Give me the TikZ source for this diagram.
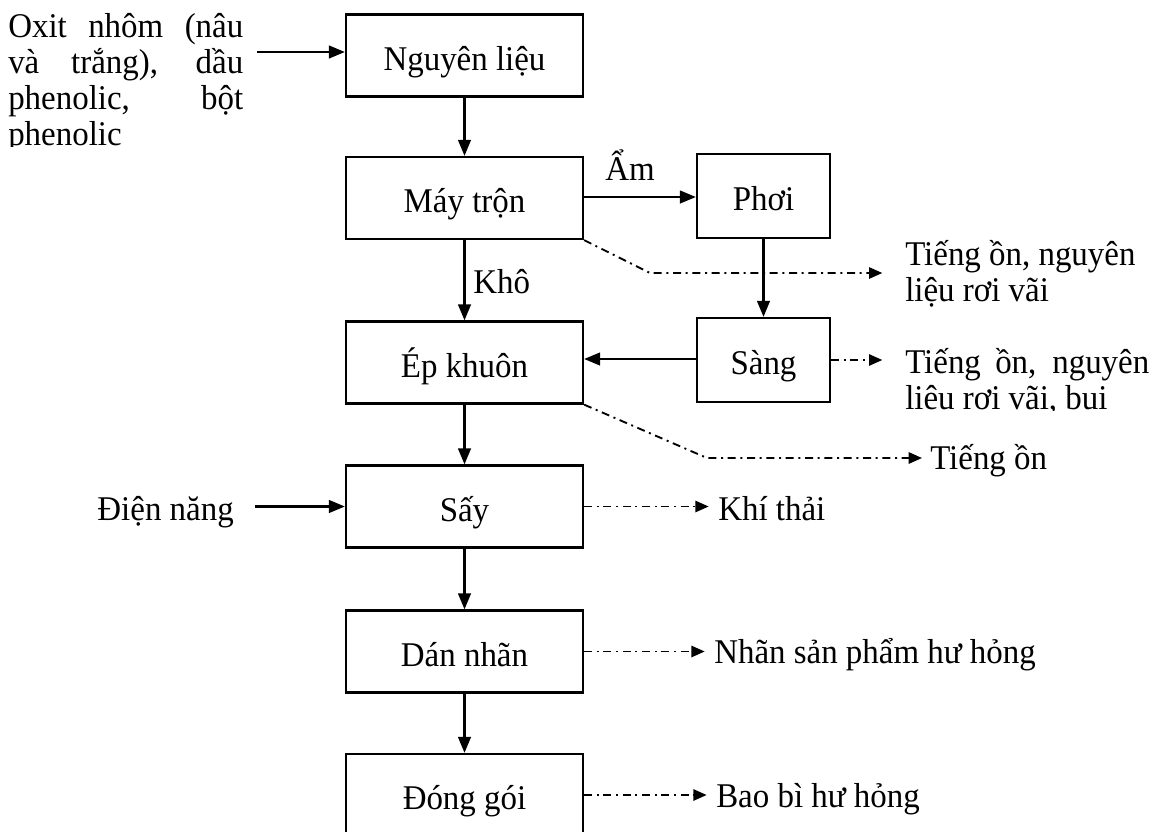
\documentclass[tikz,border=0pt]{standalone}
\usepackage{fontspec}
\setmainfont{Liberation Serif}[FakeStretch=0.95]
\usetikzlibrary{arrows.meta}
\begin{document}
\begin{tikzpicture}[x=0.75pt,y=-0.75pt,
  txt/.style={font=\fontsize{26}{27}\selectfont},
  box/.style={draw, line width=1.7pt, minimum width=177.75pt, minimum height=61.5pt, inner sep=0pt, text height=23pt, text depth=1pt, txt},
  sbox/.style={box, minimum width=99.75pt, minimum height=63pt},
  flow/.style={line width=1.7pt, -{Triangle[length=12pt,width=9.5pt]}},
  waste/.style={line width=1.4pt, dash pattern=on 6pt off 3.5pt on 1.5pt off 3.5pt, -{Triangle[length=10pt,width=8.5pt]}},
  lbl/.style={inner sep=0pt, txt, anchor=base west}]
\useasboundingbox (0,0) rectangle (1154,832);
\clip (0,0) rectangle (1154,832);

% process boxes
\node[box] (nl) at (464.5,55.5) {Nguyên liệu};
\node[box] (mt) at (464.5,198) {Máy trộn};
\node[sbox] (ph) at (763.5,196) {Phơi};
\node[sbox] (sg) at (763.5,360) {Sàng};
\node[box] (ek) at (464.5,362.5) {Ép khuôn};
\node[box] (sy) at (464.5,506.5) {Sấy};
\node[box] (dn) at (464.5,651.5) {Dán nhãn};
\node[box] (dg) at (464.5,795) {Đóng gói};

% input texts
\begin{scope}
  \clip (0,0) rectangle (320,146.5);
  \node[lbl] (src) at (8,37) {\parbox[t]{176.25pt}{%
    \makebox[176.25pt][s]{Oxit nhôm (nâu}\\
    \makebox[176.25pt][s]{và trắng), dầu}\\
    \makebox[176.25pt][s]{phenolic, bột}\\
    phenolic}};
\end{scope}
\node[lbl, anchor=base east] (dien) at (234,520) {Điện năng};

% labels on flows
\node[lbl, anchor=base] (am) at (630,180) {Ẩm};
\node[lbl] (kho) at (473,293) {Khô};

% waste texts
\node[lbl] (w1) at (905,265) {\parbox[t]{200pt}{Tiếng ồn, nguyên\\liệu rơi vãi}};
\begin{scope}
  \clip (880,300) rectangle (1154,410.5);
  \node[lbl] (w2) at (905,373) {\parbox[t]{183pt}{\makebox[183pt][s]{Tiếng ồn, nguyên}\\liệu rơi vãi, bụi}};
\end{scope}
\node[lbl] (w3) at (930,469) {Tiếng ồn};
\node[lbl] (w4) at (718,520) {Khí thải};
\node[lbl] (w5) at (714,663) {Nhãn sản phẩm hư hỏng};
\node[lbl] (w6) at (716,807) {Bao bì hư hỏng};

% main flow
\coordinate (srcout) at (257,52);
\draw[flow] (srcout) -- (srcout -| nl.west);
\draw[flow] (nl) -- (mt);
\draw[flow] (mt) -- (ek);
\draw[flow] (mt.east |- 0,197) -- (ph.west |- 0,197);
\draw[flow] (ph) -- (sg);
\draw[flow] (sg.west |- 0,359) -- (ek.east |- 0,359);
\draw[flow] (ek) -- (sy);
\draw[flow] ([xshift=16pt]dien.east |- sy.west) -- (sy.west);
\draw[flow] (sy) -- (dn);
\draw[flow] (dn) -- (dg);

% waste flows
\coordinate (b1) at (650,273);
\coordinate (b3) at (707,458);
\draw[waste, shorten >=17pt] (mt.south east) -- (b1) -- (b1 -| w1.west);
\draw[waste, shorten >=17pt] (sg.east) -- (sg.east -| w2.west);
\draw[waste, shorten >=6pt] (ek.south east) -- (b3) -- (b3 -| w3.west);
\draw[waste, shorten >=7pt] (sy.east) -- (sy.east -| w4.west);
\draw[waste, shorten >=7pt] (dn.east) -- (dn.east -| w5.west);
\draw[waste, shorten >=7pt] (dg.east) -- (dg.east -| w6.west);
\end{tikzpicture}
\end{document}
